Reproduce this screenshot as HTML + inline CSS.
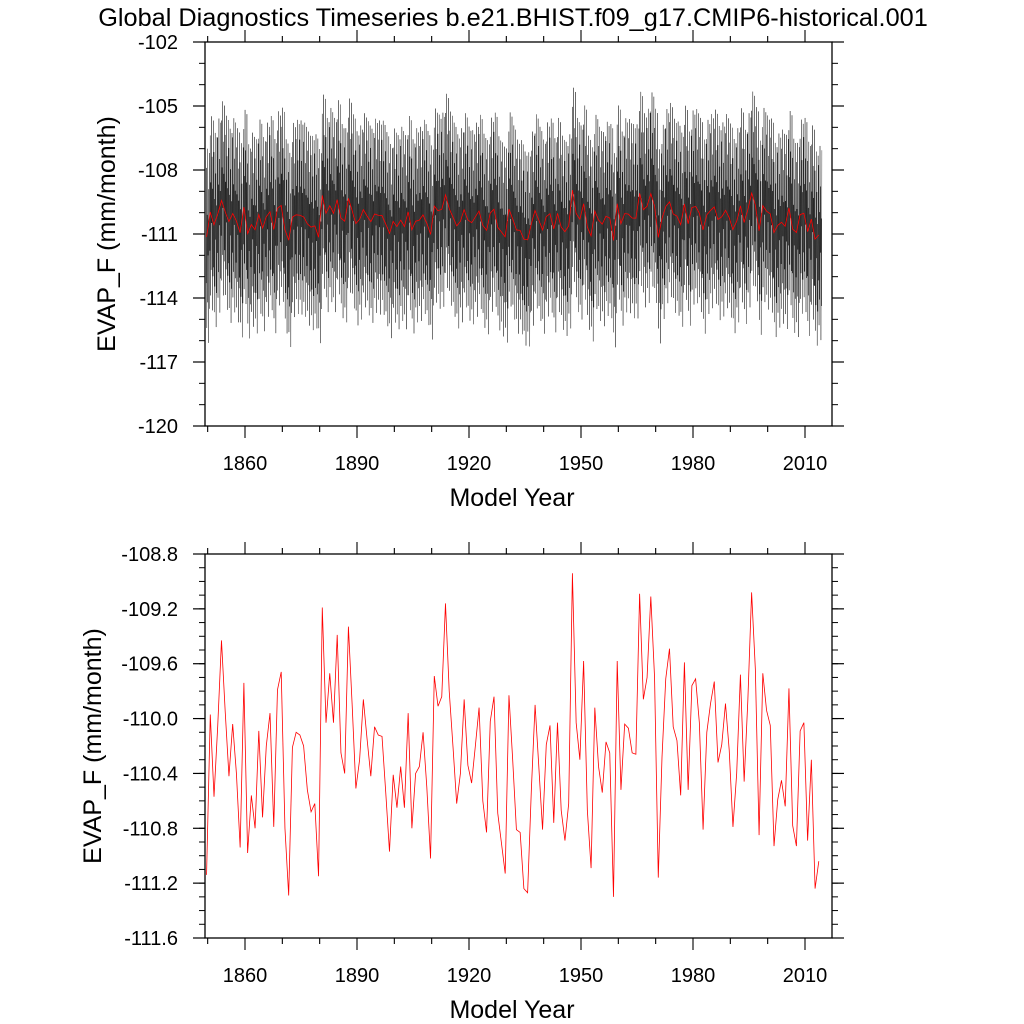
<!DOCTYPE html>
<html><head><meta charset="utf-8"><style>
html,body{margin:0;padding:0;background:#fff;}
svg{display:block;font-family:"Liberation Sans",sans-serif;}
</style></head><body>
<svg id="chart" width="1024" height="1024" viewBox="0 0 1024 1024">
<text x="513" y="26" font-size="25.3" text-anchor="middle">Global Diagnostics Timeseries b.e21.BHIST.f09_g17.CMIP6-historical.001</text>
</svg>
<script>
const annualYears0 = 1850;
const annualValues = [
-111.14,-109.97,-110.57,-110.05,-109.43,-109.95,-110.42,-110.04,-110.40,-110.94,
-109.74,-110.98,-110.56,-110.80,-110.09,-110.72,-110.20,-109.96,-110.79,-109.79,
-109.66,-110.80,-111.29,-110.21,-110.10,-110.12,-110.20,-110.52,-110.68,-110.62,
-111.15,-109.19,-110.03,-109.67,-110.03,-109.39,-110.25,-110.40,-109.33,-109.90,
-110.51,-110.30,-109.86,-110.15,-110.42,-110.06,-110.12,-110.13,-110.54,-110.97,
-110.41,-110.65,-110.35,-110.65,-109.96,-110.80,-110.40,-110.35,-110.10,-110.50,
-111.02,-109.69,-109.91,-109.84,-109.16,-109.80,-110.20,-110.62,-110.40,-109.86,
-110.34,-110.47,-110.20,-109.92,-110.60,-110.83,-110.02,-109.84,-110.69,-110.91,
-111.13,-109.83,-110.30,-110.81,-110.83,-111.24,-111.27,-110.52,-109.90,-110.35,
-110.81,-110.19,-110.05,-110.76,-110.03,-110.67,-110.89,-110.62,-108.94,-110.03,
-110.30,-109.58,-110.67,-111.09,-109.92,-110.35,-110.54,-110.17,-110.25,-111.30,
-109.58,-110.52,-110.04,-110.07,-110.25,-110.26,-109.09,-109.86,-109.70,-109.11,
-109.70,-111.16,-110.28,-109.71,-109.49,-110.06,-110.16,-110.56,-109.59,-110.52,
-109.76,-109.71,-110.03,-110.81,-110.10,-109.89,-109.73,-110.32,-110.19,-109.89,
-110.23,-110.79,-110.40,-109.68,-110.46,-109.86,-109.08,-109.64,-110.85,-109.67,
-109.94,-110.05,-110.93,-110.59,-110.45,-110.64,-109.78,-110.78,-110.93,-110.09,
-110.03,-110.89,-110.30,-111.24,-111.04
];
const seasonalCycle = [-1.9,3.5,-4.0,1.3,-2.8,4.4,-0.6,2.5,-4.7,1.0,-3.1,4.2];
const topTicks = [-102,-105,-108,-111,-114,-117,-120];
const bottomTicks = [-108.8,-109.2,-109.6,-110.0,-110.4,-110.8,-111.2,-111.6];
const xTicks = [1860,1890,1920,1950,1980,2010];

const NS="http://www.w3.org/2000/svg";
const svg=document.getElementById('chart');
function mk(tag,attrs,parent){const e=document.createElementNS(NS,tag);for(const k in attrs)e.setAttribute(k,attrs[k]);(parent||svg).appendChild(e);return e;}
const X0=205,X1=832;
const pxPerYear=(805-245)/150;
const xMin=1860-(245-X0)/pxPerYear, xMax=1860+(X1-245)/pxPerYear;
function xScale(yr){return X0+(yr-xMin)/(xMax-xMin)*(X1-X0);}

function panel(y0,y1,vmax,vmin,ticks,minorStep,labelFmt,gName,titleX){
  const g=mk('g',{});
  
  
  const ys=v=>y0+(vmax-v)/(vmax-vmin)*(y1-y0);
  const frame=mk('rect',{x:X0,y:y0,width:X1-X0,height:y1-y0,fill:'none',stroke:'#000','stroke-width':1.3},g);
  
  
  const nMin=Math.round((vmax-vmin)/minorStep);
  for(let i=0;i<=nMin;i++){const v=vmax-i*minorStep;const y=ys(v);
    mk('line',{x1:X0-6,x2:X0,y1:y,y2:y,stroke:'#000','stroke-width':1},g);
    mk('line',{x1:X1,x2:X1+6,y1:y,y2:y,stroke:'#000','stroke-width':1},g);}
  ticks.forEach(v=>{const y=ys(v);
    mk('line',{x1:X0-12,x2:X0,y1:y,y2:y,stroke:'#000','stroke-width':1.2},g);
    mk('line',{x1:X1,x2:X1+12,y1:y,y2:y,stroke:'#000','stroke-width':1.2},g);
    const t=mk('text',{x:178,y:y+7,'font-size':20,'text-anchor':'end'},g);t.textContent=labelFmt(v);
    
    });
  for(let yr=1850;yr<=2015;yr+=10){const x=xScale(yr);
    const major=xTicks.includes(yr);const L=major?12:6;
    mk('line',{x1:x,x2:x,y1:y1,y2:y1+L,stroke:'#000','stroke-width':1.1},g);
    mk('line',{x1:x,x2:x,y1:y0-L,y2:y0,stroke:'#000','stroke-width':1.1},g);
    if(major){const t=mk('text',{x:x,y:y1+44,'font-size':20,'text-anchor':'middle'},g);t.textContent=yr;
      
      }}
  const xt=mk('text',{x:512,y:y1+80,'font-size':25,'text-anchor':'middle'},g);xt.textContent='Model Year';
  
  
  const cy=(y0+y1)/2;
  const yt=mk('text',{x:titleX,y:cy,'font-size':25,'text-anchor':'middle',transform:`rotate(-90 ${titleX} ${cy})`},g);yt.textContent='EVAP_F (mm/month)';
  
  
  return {g,ys};
}
const topP=panel(42,426,-102,-120,topTicks,1,v=>String(v),'top-panel',115);
const botP=panel(554,938,-108.8,-111.6,bottomTicks,0.1,v=>v.toFixed(1),'bottom-panel',101);

const meanVal=annualValues.reduce((a,b)=>a+b,0)/annualValues.length;
let d='';
annualValues.forEach((av,i)=>{const anom=(av-meanVal)*1.3;
  seasonalCycle.forEach((s,m)=>{const yr=annualYears0+i-0.4+m/12;const v=meanVal+anom+s;
    d+=(d?'L':'M')+xScale(yr).toFixed(2)+','+topP.ys(v).toFixed(2);});});
const ml=mk('path',{d:d,fill:'none',stroke:'#000','stroke-width':0.45,'stroke-opacity':0.8},topP.g);


function annualPath(ys){return annualValues.map((v,i)=>(i?'L':'M')+xScale(annualYears0+i-0.3).toFixed(2)+','+ys(v).toFixed(2)).join('');}
const al=mk('path',{d:annualPath(topP.ys),fill:'none',stroke:'#f00','stroke-width':0.8},topP.g);


const bl=mk('path',{d:annualPath(botP.ys),fill:'none',stroke:'#f00','stroke-width':0.8},botP.g);


</script>
</body></html>
